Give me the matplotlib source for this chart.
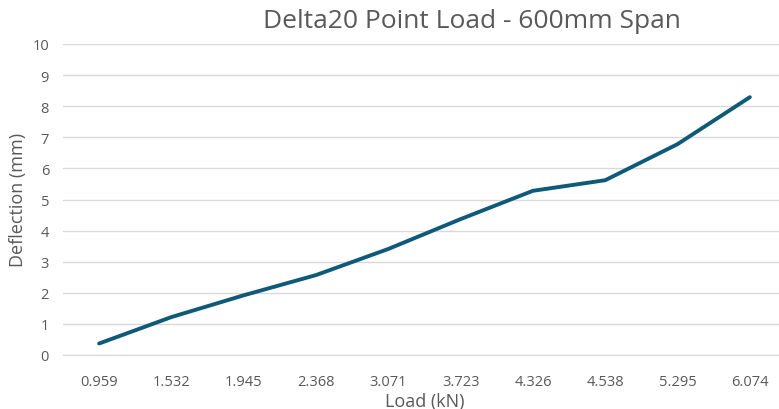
import matplotlib
matplotlib.use("Agg")
import matplotlib.pyplot as plt

# Data
loads = ["0.959", "1.532", "1.945", "2.368", "3.071", "3.723", "4.326", "4.538", "5.295", "6.074"]
deflection = [0.37, 1.22, 1.92, 2.57, 3.41, 4.37, 5.28, 5.62, 6.78, 8.29]
y_ticks = list(range(0, 11))

plt.rcParams["font.family"] = ["Open Sans", "DejaVu Sans"]
text_col = "#595959"

fig = plt.figure(figsize=(7.79, 4.10), dpi=100)
# plot area runs a little past the right edge, as in the original
ax = fig.add_axes([63 / 779, 1 - 356 / 410, (786 - 63) / 779, (356 - 45) / 410])

x = range(len(loads))
ax.plot(x, deflection, color="#0E5A78", linewidth=2.8, solid_capstyle="round")

ax.set_xlim(-0.5, len(loads) - 0.5)
ax.set_ylim(0, 10)
ax.set_xticks(list(x))
ax.set_xticklabels(loads)
ax.set_yticks(y_ticks)
ax.yaxis.grid(True, color="#D9D9D9", linewidth=1)
ax.set_axisbelow(True)
for s in ax.spines.values():
    s.set_visible(False)
ax.spines["bottom"].set_visible(True)
ax.spines["bottom"].set_color("#D9D9D9")
ax.tick_params(length=0, colors=text_col, labelsize=10.5)
ax.tick_params(axis="x", pad=14)
ax.tick_params(axis="y", pad=10)

fig.text(472 / 779, 1 - 22 / 410, "Delta20 Point Load - 600mm Span", ha="center", va="center",
         fontsize=19, color=text_col)
fig.text(425 / 779, 1 - 402 / 410, "Load (kN)", ha="center", va="center", fontsize=13, color=text_col)
fig.text(18 / 779, 1 - 200 / 410, "Deflection (mm)", ha="center", va="center", rotation=90,
         fontsize=13, color=text_col)

fig.savefig("out.png", dpi=100)
